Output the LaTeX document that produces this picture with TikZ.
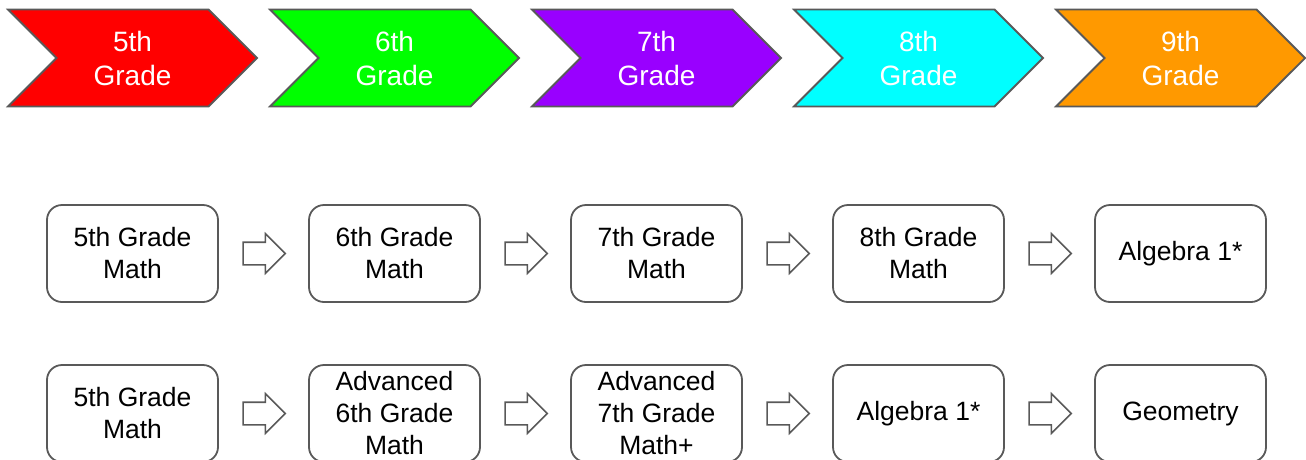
\documentclass[tikz,border=0pt]{standalone}
\usepackage{fontspec}
\setmainfont{Liberation Sans}
\usetikzlibrary{shapes.symbols,shapes.arrows}
\definecolor{edgegray}{RGB}{89,89,89}
\definecolor{gradered}{RGB}{255,0,0}
\definecolor{gradegreen}{RGB}{0,255,0}
\definecolor{gradepurple}{RGB}{153,0,255}
\definecolor{gradecyan}{RGB}{0,255,255}
\definecolor{gradeorange}{RGB}{255,153,0}
\begin{document}
\begin{tikzpicture}[x=1pt,y=-1pt,
	grade/.style={signal, signal from=west, signal to=east, draw=edgegray, line width=1.8pt, minimum width=249pt, minimum height=97pt, inner sep=0pt, text=white, align=center, font=\fontsize{28}{34}\selectfont},
	course/.style={rectangle, rounded corners=15pt, draw=edgegray, line width=1.8pt, minimum width=171pt, minimum height=97pt, inner sep=0pt, align=center, font=\fontsize{26.5}{32}\selectfont},
	hollow/.style={single arrow, draw=edgegray, fill=white, line width=1.6pt, minimum height=42pt, inner xsep=0pt, inner ysep=10.5pt, single arrow head extend=8.5pt, single arrow head indent=0pt, xshift=-5pt}]
	\useasboundingbox (0,0) rectangle (1306,459);
	\clip (0,0) rectangle (1306,459);
	
	\node[grade, fill=gradered] (g5) at (132.5,58) {5th\\Grade};
	\node[grade, fill=gradegreen] (g6) at (394.5,58) {6th\\Grade};
	\node[grade, fill=gradepurple] (g7) at (656.5,58) {7th\\Grade};
	\node[grade, fill=gradecyan] (g8) at (918.5,58) {8th\\Grade};
	\node[grade, fill=gradeorange] (g9) at (1180.5,58) {9th\\Grade};
	
	\node[course] (std5) at (132.5,253.5) {5th Grade\\Math};
	\node[course] (std6) at (394.5,253.5) {6th Grade\\Math};
	\node[course] (std7) at (656.5,253.5) {7th Grade\\Math};
	\node[course] (std8) at (918.5,253.5) {8th Grade\\Math};
	\node[course] (std9) at (1180.5,253.5) {Algebra 1*};
	
	\node[course] (adv5) at (132.5,413.5) {5th Grade\\Math};
	\node[course] (adv6) at (394.5,413.5) {Advanced\\6th Grade\\Math};
	\node[course] (adv7) at (656.5,413.5) {Advanced\\7th Grade\\Math+};
	\node[course] (adv8) at (918.5,413.5) {Algebra 1*};
	\node[course] (adv9) at (1180.5,413.5) {Geometry};
	
	\path (std5) -- node[hollow] (sa1) {} (std6);
	\path (std6) -- node[hollow] (sa2) {} (std7);
	\path (std7) -- node[hollow] (sa3) {} (std8);
	\path (std8) -- node[hollow] (sa4) {} (std9);
	
	\path (adv5) -- node[hollow] (aa1) {} (adv6);
	\path (adv6) -- node[hollow] (aa2) {} (adv7);
	\path (adv7) -- node[hollow] (aa3) {} (adv8);
	\path (adv8) -- node[hollow] (aa4) {} (adv9);
\end{tikzpicture}
\end{document}
